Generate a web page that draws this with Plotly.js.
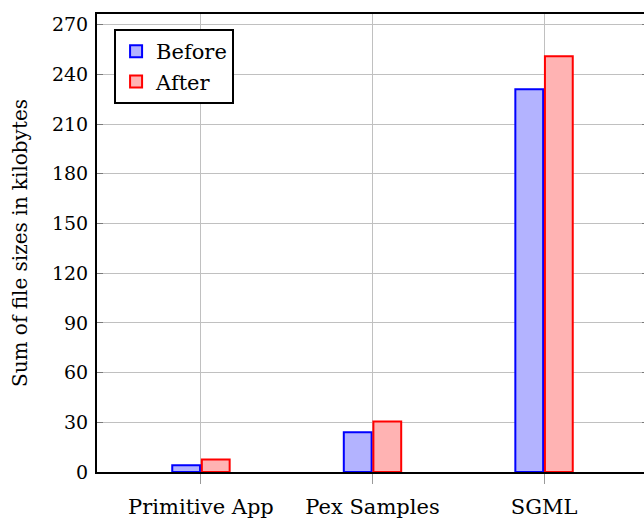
<!DOCTYPE html>
<html>
<head>
<meta charset="utf-8">
<script src="https://cdn.plot.ly/plotly-3.0.1.min.js"></script>
<style>html,body{margin:0;padding:0;overflow:hidden;background:#fff;}</style>
</head>
<body>
<div id="chart"></div>
<script>
const categories = ["Primitive App", "Pex Samples", "SGML"];
const beforeValues = [4, 24, 231];
const afterValues = [7.5, 30.5, 251];
const seriesNames = ["Before", "After"];
const yTicks = [0, 30, 60, 90, 120, 150, 180, 210, 240, 270];

const font = "DejaVu Serif";
const traces = [
  {type: "bar", name: seriesNames[0], x: categories, y: beforeValues,
   marker: {color: "#b3b3ff", line: {color: "#0000ff", width: 2}}},
  {type: "bar", name: seriesNames[1], x: categories, y: afterValues,
   marker: {color: "#ffb3b3", line: {color: "#ff0000", width: 2}}}
];
const layout = {
  width: 648, height: 520,
  margin: {l: 97, r: 0, t: 14, b: 48},
  paper_bgcolor: "#fff", plot_bgcolor: "#fff",
  font: {family: font, size: 20, color: "#000"},
  barmode: "group", bargap: 0.655, bargroupgap: 0.06,
  showlegend: true,
  legend: {x: 0.031, y: 0.967, xanchor: "left", yanchor: "top",
    bordercolor: "#000", borderwidth: 2, bgcolor: "#fff",
    font: {family: font, size: 21}, traceorder: "normal", itemwidth: 30},
  xaxis: {type: "category", range: [-0.606, 2.606],
    showgrid: true, gridcolor: "#c0c0c0", gridwidth: 1,
    showline: true, linecolor: "#000", linewidth: 2, mirror: true,
    ticks: "outside", ticklen: 10, tickcolor: "#9a9a9a", tickwidth: 1,
    ticklabelstandoff: 5,
    tickfont: {family: font, size: 21}, zeroline: false},
  yaxis: {range: [0, 276.5], tickvals: yTicks, ticktext: yTicks.map(String),
    showgrid: true, gridcolor: "#c0c0c0", gridwidth: 1,
    showline: true, linecolor: "#000", linewidth: 2, mirror: "ticks",
    ticks: "inside", ticklen: 6, tickcolor: "#7a7a7a", tickwidth: 1,
    ticklabelstandoff: 3,
    tickfont: {family: font, size: 19}, zeroline: false,
    title: {text: "Sum of file sizes in kilobytes", font: {family: font, size: 20}, standoff: 19}}
};
Plotly.newPlot("chart", traces, layout, {displayModeBar: false, staticPlot: true});
</script>
</body>
</html>
